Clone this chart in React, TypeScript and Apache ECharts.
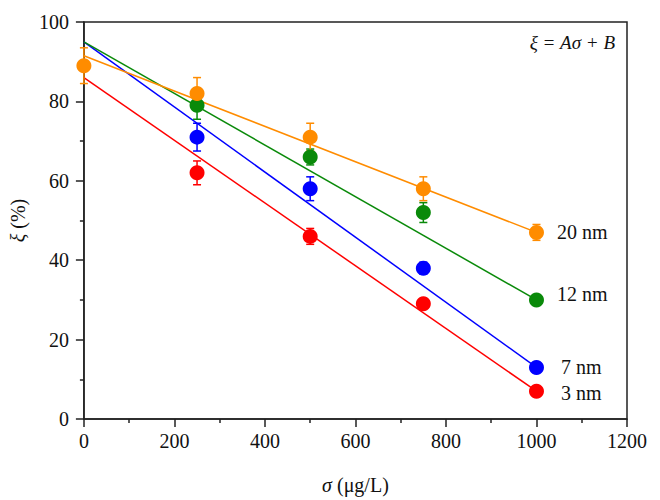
import React, { useEffect, useRef } from "react";
import * as echarts from "echarts";

// x positions (σ, µg/L)
const sigma = [0, 250, 500, 750, 1000];

// measured ξ (%) and error bars
const nm3 = [null, 62, 46, 29, 7];
const nm3Err = [null, 3, 2, 1, 1];
const nm7 = [null, 71, 58, 38, 13];
const nm7Err = [null, 3.5, 3, 1.5, 1];
const nm12 = [null, 79, 66, 52, 30];
const nm12Err = [null, 3.5, 2, 2.5, 1];
const nm20 = [89, 82, 71, 58, 47];
const nm20Err = [4.5, 4, 3.5, 3, 2];

// linear fits ξ = Aσ + B : [σ, ξ] at start and end
const fit3 = [[0, 86], [1000, 7]];
const fit7 = [[0, 95], [1000, 13]];
const fit12 = [[0, 95], [1000, 30]];
const fit20 = [[0, 91.5], [1000, 47]];

const names = ["3 nm", "7 nm", "12 nm", "20 nm"];
const colors = ["#ff0000", "#0000ff", "#0a8a0a", "#ff8c00"];
const labelOffsets = [[0, 2], [0, 0], [0, -6], [0, 0]];

const FONT = "Liberation Serif";

export default function App() {
  const ref = useRef<HTMLDivElement>(null);
  useEffect(() => {
    if (!ref.current) return;
    const chart = echarts.init(ref.current, null, { renderer: "svg" });
    const vals = [nm3, nm7, nm12, nm20];
    const errs = [nm3Err, nm7Err, nm12Err, nm20Err];
    const fits = [fit3, fit7, fit12, fit20];
    const series: any[] = [];
    vals.forEach((v, i) => {
      const color = colors[i];
      series.push({
        type: "line",
        data: fits[i],
        symbol: "none",
        lineStyle: { color, width: 1.5 },
        z: 2,
        silent: true,
      });
      const errData: any[] = [];
      const ptData: any[] = [];
      v.forEach((y, k) => {
        if (y == null) return;
        errData.push([sigma[k], y, errs[i][k]]);
        const isLast = k === v.length - 1;
        ptData.push(
          isLast
            ? {
                value: [sigma[k], y],
                label: {
                  show: true,
                  formatter: names[i],
                  position: "right",
                  distance: names[i].length < 5 ? 17 : 13,
                  offset: labelOffsets[i],
                  color: "#111",
                  fontFamily: FONT,
                  fontSize: 20,
                },
              }
            : [sigma[k], y]
        );
      });
      series.push({
        type: "custom",
        data: errData,
        z: 3,
        renderItem: (params: any, api: any) => {
          const x = api.value(0);
          const y = api.value(1);
          const e = api.value(2);
          const hi = api.coord([x, y + e]);
          const lo = api.coord([x, y - e]);
          const w = 4;
          const st = { stroke: color, lineWidth: 1.5 };
          return {
            type: "group",
            children: [
              { type: "line", shape: { x1: hi[0], y1: hi[1], x2: lo[0], y2: lo[1] }, style: st },
              { type: "line", shape: { x1: hi[0] - w, y1: hi[1], x2: hi[0] + w, y2: hi[1] }, style: st },
              { type: "line", shape: { x1: lo[0] - w, y1: lo[1], x2: lo[0] + w, y2: lo[1] }, style: st },
            ],
          };
        },
      });
      series.push({
        type: "scatter",
        data: ptData,
        symbol: "circle",
        symbolSize: 15,
        itemStyle: { color, opacity: 1 },
        z: 4,
      });
    });

    chart.setOption({
      animation: false,
      backgroundColor: "#fff",
      textStyle: { fontFamily: FONT },
      grid: {
        left: 82,
        right: 33,
        top: 22,
        bottom: 78,
        show: true,
        borderColor: "#222",
        borderWidth: 1.5,
        backgroundColor: "transparent",
      },
      xAxis: {
        type: "value",
        min: 0,
        max: 1200,
        interval: 200,
        name: "{i|σ} (μg/L)",
        nameLocation: "middle",
        nameGap: 56,
        nameTextStyle: {
          fontFamily: FONT,
          fontSize: 20,
          color: "#111",
          rich: { i: { fontFamily: FONT, fontSize: 20, fontStyle: "italic", color: "#111" } },
        },
        axisLine: { lineStyle: { color: "#222", width: 1.5 } },
        axisTick: { show: true, inside: false, length: 8, lineStyle: { color: "#222", width: 1.5 } },
        minorTick: { show: true, splitNumber: 2, length: 4, lineStyle: { color: "#222", width: 1.5 } },
        splitLine: { show: false },
        axisLabel: {
          fontFamily: FONT,
          fontSize: 20,
          color: "#111",
          margin: 12,
          formatter: (v: number) => String(v),
        },
      },
      yAxis: {
        type: "value",
        min: 0,
        max: 100,
        interval: 20,
        name: "{i|ξ} (%)",
        nameLocation: "middle",
        nameGap: 48,
        nameTextStyle: {
          fontFamily: FONT,
          fontSize: 20,
          color: "#111",
          rich: { i: { fontFamily: FONT, fontSize: 20, fontStyle: "italic", color: "#111" } },
        },
        axisLine: { show: true, lineStyle: { color: "#222", width: 1.5 } },
        axisTick: { show: true, inside: false, length: 8, lineStyle: { color: "#222", width: 1.5 } },
        minorTick: { show: true, splitNumber: 2, length: 4, lineStyle: { color: "#222", width: 1.5 } },
        splitLine: { show: false },
        axisLabel: {
          fontFamily: FONT,
          fontSize: 20,
          color: "#111",
          margin: 15,
          formatter: (v: number) => String(v),
        },
      },
      graphic: [
        {
          type: "text",
          right: 45,
          top: 33,
          style: {
            text: "ξ = Aσ + B",
            fontFamily: FONT,
            fontSize: 19,
            fontStyle: "italic",
            fill: "#111",
          },
        },
      ],
      series,
    });
    return () => chart.dispose();
  }, []);
  return <div ref={ref} style={{ width: 660, height: 500, position: "absolute", left: 0, top: 0 }} />;
}
